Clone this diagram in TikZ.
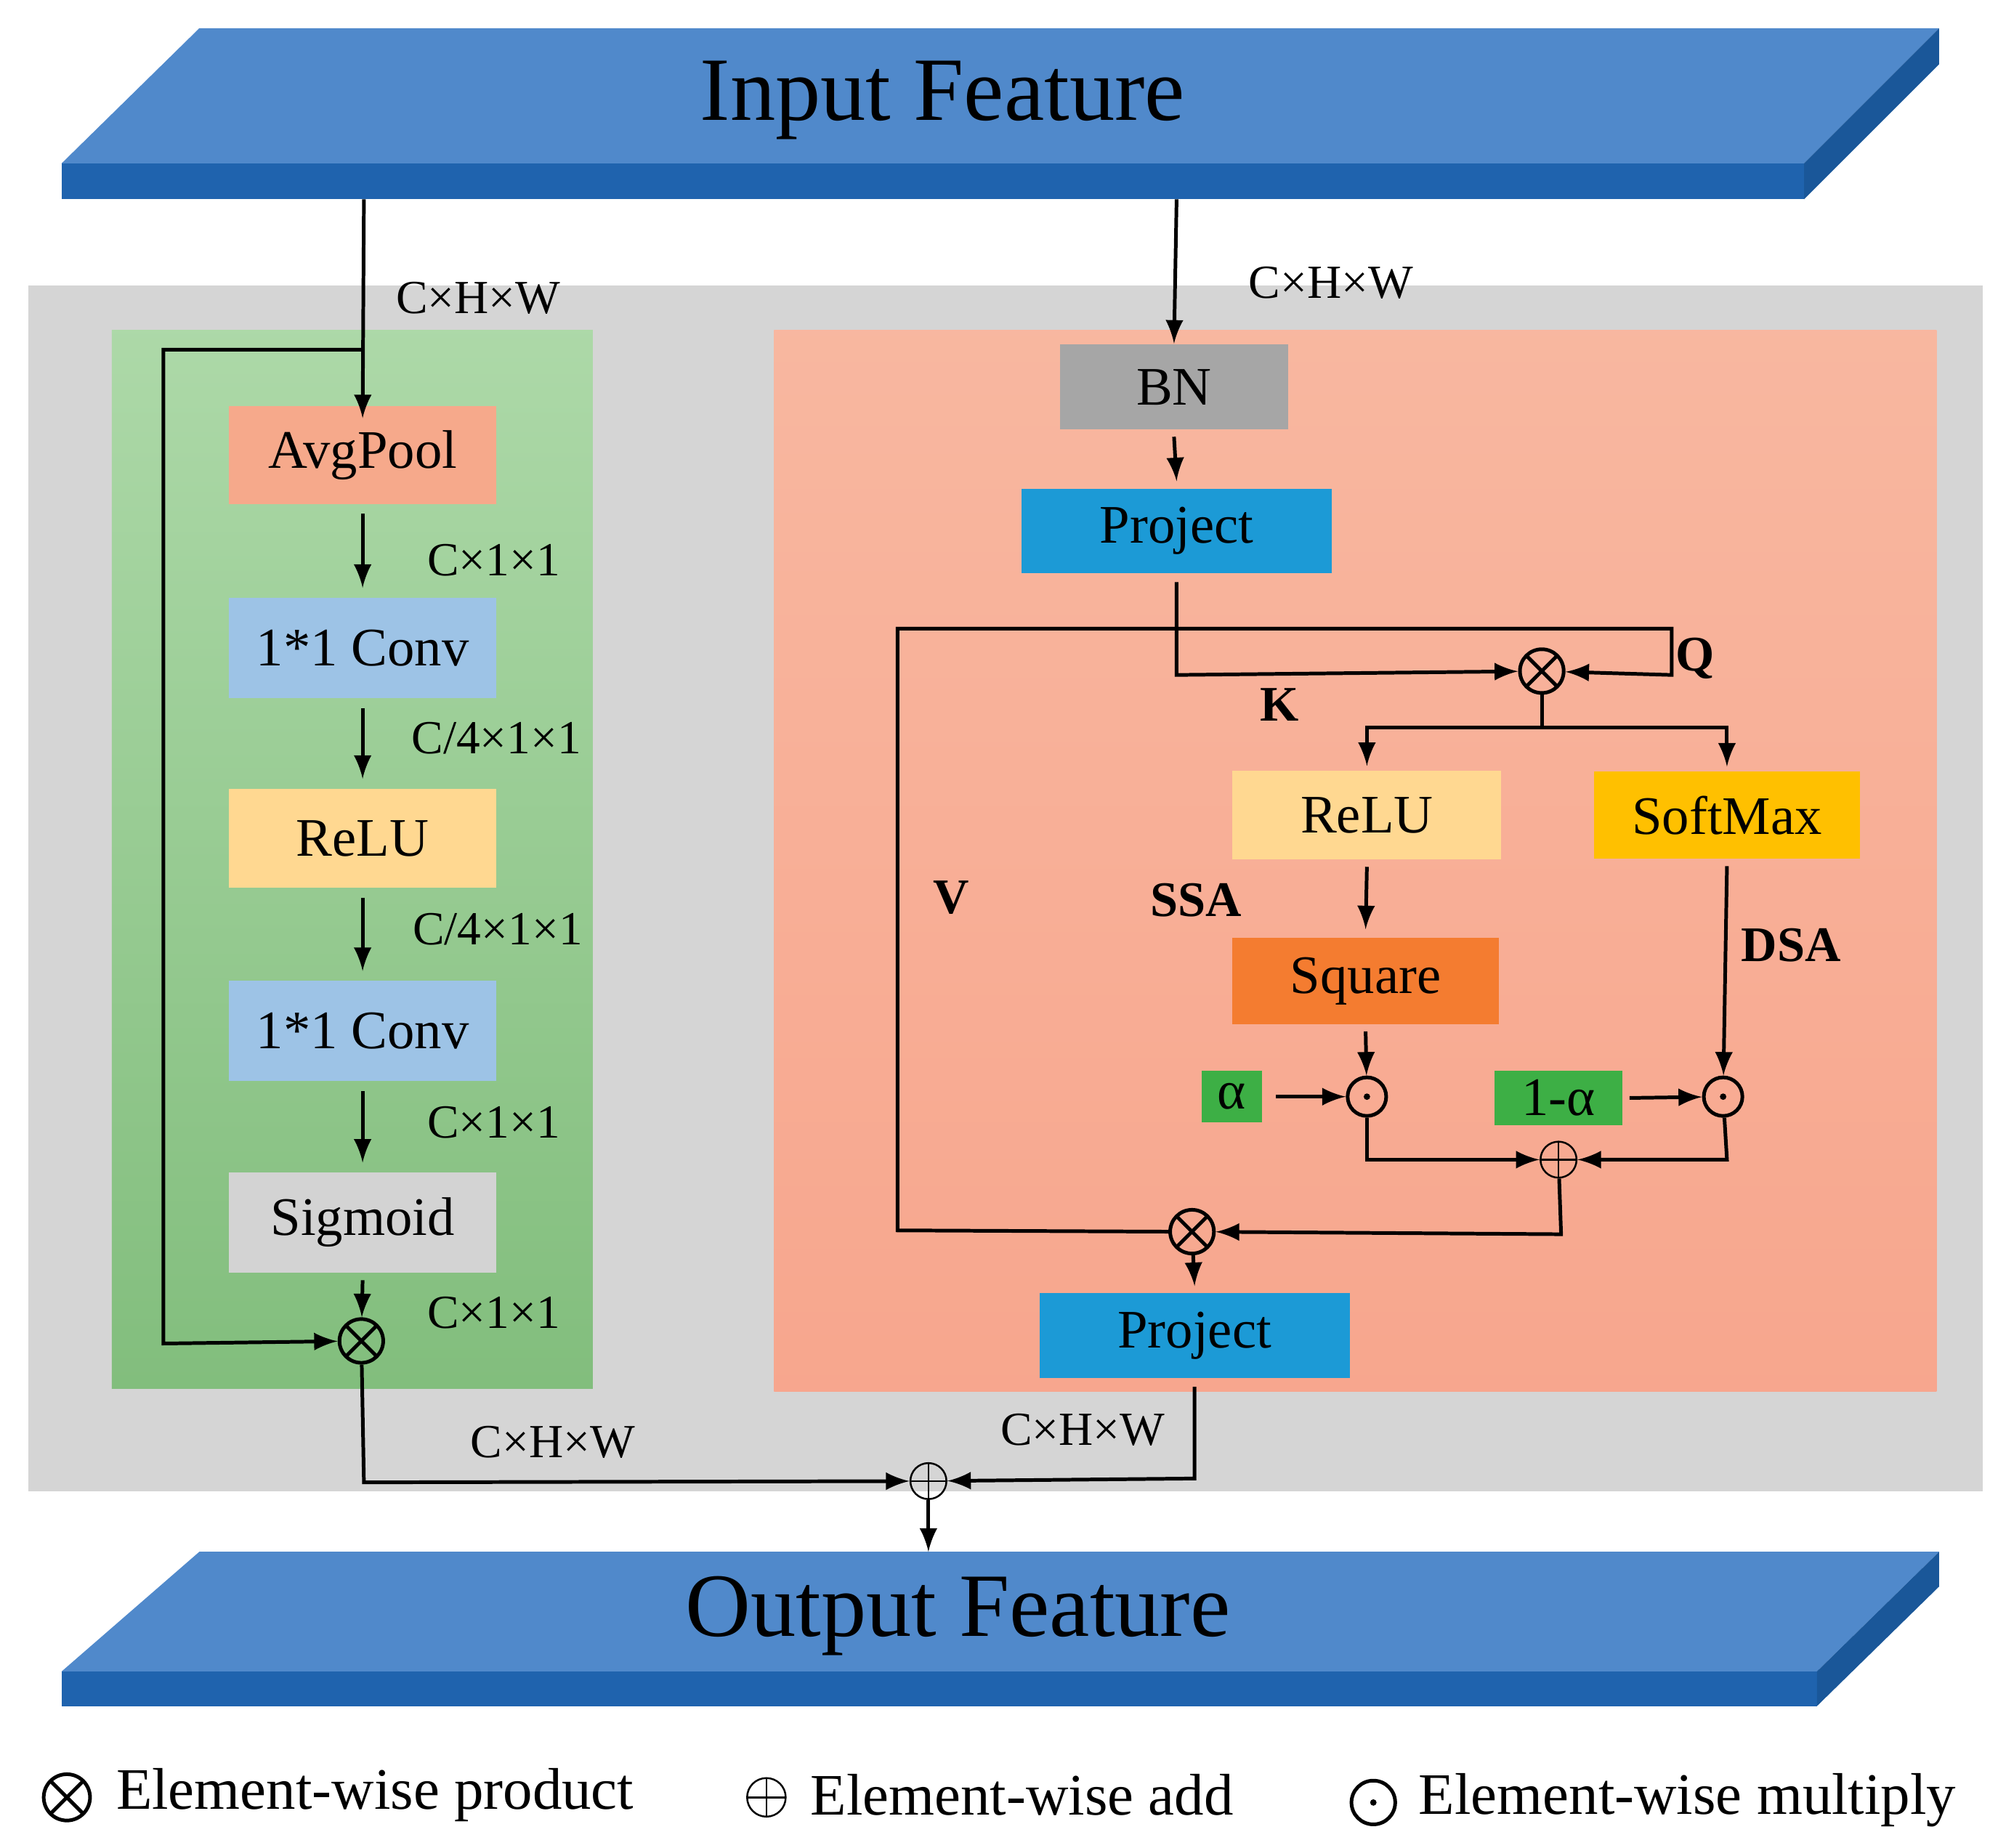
\documentclass[tikz,border=0pt]{standalone}
\usepackage{fontspec}
\setmainfont{Liberation Serif}
\usetikzlibrary{positioning}
\tikzset{>=latex}
\definecolor{slabtop}{HTML}{5089CB}
\definecolor{slabfront}{HTML}{1F63AE}
\definecolor{slabside}{HTML}{1A5799}
\definecolor{panelgray}{HTML}{D5D5D5}
\definecolor{panelgreen}{HTML}{98CF92}
\definecolor{panelsalmon}{HTML}{F7AF95}
\definecolor{avgcol}{HTML}{F6A98B}
\definecolor{convcol}{HTML}{9DC3E6}
\definecolor{relucol}{HTML}{FFD891}
\definecolor{sigcol}{HTML}{D3D3D3}
\definecolor{bncol}{HTML}{A6A6A6}
\definecolor{projcol}{HTML}{1C9AD6}
\definecolor{softcol}{HTML}{FFC000}
\definecolor{sqcol}{HTML}{F47C30}
\definecolor{alphacol}{HTML}{3DAF45}
\tikzset{
  blk/.style = {inner sep=0pt, font=\fontsize{12}{14}\selectfont},
  lbl/.style = {font=\fontsize{10.5}{12}\selectfont},
  bl/.style = {font=\fontsize{11}{13}\selectfont\bfseries},
  otimes/.style = {circle, draw, thick, minimum size=0.34cm, inner sep=0pt,
    path picture={\draw (path picture bounding box.north west) -- (path picture bounding box.south east)
      (path picture bounding box.north east) -- (path picture bounding box.south west);}},
  oplus/.style = {circle, draw, minimum size=0.28cm, inner sep=0pt,
    path picture={\draw (path picture bounding box.north) -- (path picture bounding box.south)
      (path picture bounding box.east) -- (path picture bounding box.west);}},
  odot/.style = {circle, draw, thick, minimum size=0.30cm, inner sep=0pt,
    path picture={\fill (path picture bounding box.center) circle (0.025cm);}},
  arr/.style = {->, thick},
  ln/.style = {thick}
}
\begin{document}
\begin{tikzpicture}[x=0.01cm, y=-0.01cm]
  \useasboundingbox (0,0) rectangle (1560,1437);
  % input slab
  \fill[slabtop] (48,127) -- (155,22) -- (1508,22) -- (1403,127) -- cycle;
  \fill[slabfront] (48,127) rectangle (1403,155);
  \fill[slabside] (1403,127) -- (1508,22) -- (1508,50) -- (1403,155) -- cycle;
  \node[font=\fontsize{20}{24}\selectfont] (inp) at (733,78) {Input Feature};
  \coordinate (inL) at (283,155);
  \coordinate (inR) at (915,155);
  % output slab
  \fill[slabtop] (48,1300) -- (155,1207) -- (1508,1207) -- (1413,1300) -- cycle;
  \fill[slabfront] (48,1300) rectangle (1413,1327);
  \fill[slabside] (1413,1300) -- (1508,1207) -- (1508,1234) -- (1413,1327) -- cycle;
  \node[font=\fontsize{20}{24}\selectfont] (outp) at (745,1257) {Output Feature};
  \coordinate (outT) at (722,1207);
  % panels
  \fill[panelgray] (22,222) rectangle (1542,1160);
  \shade[top color=panelgreen!80!white, bottom color=panelgreen!90!black!95!green] (87,257) rectangle (461,1080);
  \shade[top color=panelsalmon!90!white, bottom color=panelsalmon!95!red] (602,257) rectangle (1506,1082);

  % left branch
  \node[blk, fill=avgcol, minimum width=2.08cm, minimum height=0.76cm] (avg) at (282,354) {AvgPool};
  \node[blk, fill=convcol, minimum width=2.08cm, minimum height=0.78cm] (conv1) at (282,504) {1*1 Conv};
  \node[blk, fill=relucol, minimum width=2.08cm, minimum height=0.77cm] (relu1) at (282,652) {ReLU};
  \node[blk, fill=convcol, minimum width=2.08cm, minimum height=0.78cm] (conv2) at (282,802) {1*1 Conv};
  \node[blk, fill=sigcol, minimum width=2.08cm, minimum height=0.78cm] (sig) at (282,951) {Sigmoid};
  \node[otimes] (mul1) at (281,1043) {};
  \draw[arr] (inL) -- ([yshift=-0.1cm]avg.north);
  \draw[arr] ([yshift=-0.07cm]avg.south) -- ([yshift=0.07cm]conv1.north);
  \draw[arr] ([yshift=-0.07cm]conv1.south) -- ([yshift=0.07cm]relu1.north);
  \draw[arr] ([yshift=-0.07cm]relu1.south) -- ([yshift=0.07cm]conv2.north);
  \draw[arr] ([yshift=-0.07cm]conv2.south) -- ([yshift=0.07cm]sig.north);
  \draw[arr] ([yshift=-0.05cm]sig.south) -- (mul1);
  \coordinate (skip) at (283,272);
  \draw[arr] (skip) -- (127,272) -- (127,1045) -- (mul1);
  \node[lbl] (l1) at (372,232) {C×H×W};
  \node[lbl] (l2) at (384,436) {C×1×1};
  \node[lbl] (l3) at (386,574) {C/4×1×1};
  \node[lbl] (l4) at (387,723) {C/4×1×1};
  \node[lbl] (l5) at (384,873) {C×1×1};
  \node[lbl] (l6) at (384,1021) {C×1×1};

  % right branch
  \node[blk, fill=bncol, minimum width=1.77cm, minimum height=0.66cm] (bn) at (913,301) {BN};
  \node[blk, fill=projcol, minimum width=2.41cm, minimum height=0.66cm] (proj1) at (915,413) {Project};
  \node[otimes] (mul2) at (1199,522) {};
  \node[blk, fill=relucol, minimum width=2.09cm, minimum height=0.69cm] (relu2) at (1063,634) {ReLU};
  \node[blk, fill=softcol, minimum width=2.07cm, minimum height=0.68cm] (soft) at (1343,634) {SoftMax};
  \node[blk, fill=sqcol, minimum width=2.07cm, minimum height=0.67cm] (sq) at (1062,763) {Square};
  \node[blk, fill=alphacol, minimum width=0.47cm, minimum height=0.40cm] (al) at (958,853) {α};
  \node[blk, fill=alphacol, minimum width=0.99cm, minimum height=0.42cm] (oneal) at (1212,854) {1-α};
  \node[odot] (dot1) at (1063,853) {};
  \node[odot] (dot2) at (1340,853) {};
  \node[oplus] (add1) at (1212,902) {};
  \node[otimes] (mul3) at (927,958) {};
  \node[blk, fill=projcol, minimum width=2.41cm, minimum height=0.66cm] (proj2) at (929,1039) {Project};
  \node[oplus] (add2) at (722,1152) {};

  \draw[arr] (inR) -- (bn.north);
  \draw[arr] ([yshift=-0.05cm]bn.south) -- ([yshift=0.05cm]proj1.north);
  \draw[arr] ([yshift=-0.06cm]proj1.south) -- (915,525) -- (mul2);
  \draw[arr] (mul3.west) -- (698,957) -- (698,489) -- (1300,489) -- (1300,525) -- (mul2);
  \coordinate (split) at (1199,566);
  \draw[ln] (mul2) -- (split);
  \draw[arr] (split) -- (1063,566) -- ([yshift=0.03cm]relu2.north);
  \draw[arr] (split) -- (1343,566) -- ([yshift=0.03cm]soft.north);
  \draw[arr] ([yshift=-0.05cm]relu2.south) -- ([yshift=0.06cm]sq.north);
  \draw[arr] ([yshift=-0.05cm]sq.south) -- (dot1);
  \draw[arr] ([yshift=-0.05cm]soft.south) -- (dot2);
  \draw[arr] ([xshift=0.1cm]al.east) -- (dot1);
  \draw[arr] ([xshift=0.05cm]oneal.east) -- (dot2);
  \draw[arr] (dot1) -- (1063,902) -- (add1);
  \draw[arr] (dot2) -- (1343,902) -- (add1);
  \draw[arr] (add1) -- (1214,960) -- (mul3);
  \draw[arr] (mul3) -- ([yshift=0.05cm]proj2.north);
  \draw[arr] ([yshift=-0.06cm]proj2.south) -- (929,1150) -- (add2);
  \draw[arr] (mul1) -- (283,1153) -- (add2);
  \draw[arr] (add2) -- (outT);
  \node[lbl] (l7) at (1035,220) {C×H×W};
  \node[lbl] (l8) at (430,1122) {C×H×W};
  \node[lbl] (l9) at (842,1112) {C×H×W};
  \node[bl] (kk) at (995,548) {K};
  \node[bl] (qq) at (1318,512) {Q};
  \node[bl] (vv) at (740,698) {V};
  \node[bl] (ssa) at (930,700) {SSA};
  \node[bl] (dsa) at (1393,735) {DSA};

  % legend
  \node[otimes, minimum size=0.36cm] (lg1) at (52,1398) {};
  \node[font=\fontsize{13}{15}\selectfont, anchor=west] (lt1) at (78,1396) {Element-wise product};
  \node[oplus, minimum size=0.30cm] (lg2) at (596,1398) {};
  \node[font=\fontsize{13}{15}\selectfont, anchor=west] (lt2) at (618,1396) {Element-wise add};
  \node[odot, minimum size=0.34cm] (lg3) at (1068,1402) {};
  \node[font=\fontsize{13}{15}\selectfont, anchor=west] (lt3) at (1091,1400) {Element-wise multiply};
\end{tikzpicture}
\end{document}
